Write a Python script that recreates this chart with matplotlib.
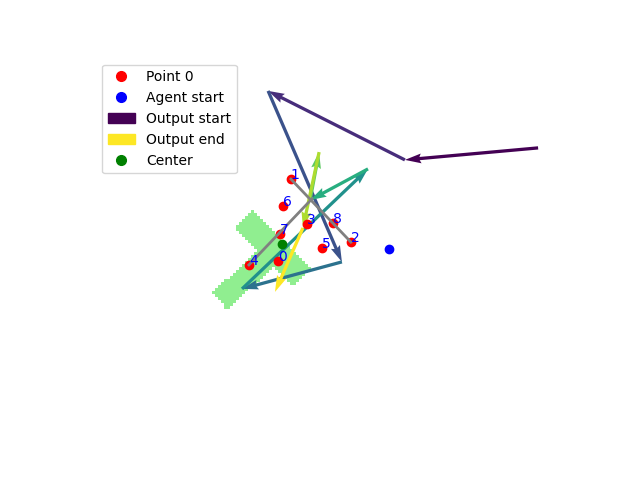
import numpy as np
import matplotlib
matplotlib.use("Agg")
import matplotlib.pyplot as plt
from matplotlib.patches import Patch
from matplotlib.path import Path
from matplotlib.colors import ListedColormap

# ---- data ----
pts_x = [61.0, 65.3, 85.3, 70.7, 51.3, 75.7, 62.7, 61.7, 79.3]
pts_y = [67.8, 40.5, 61.5, 55.5, 69.1, 63.5, 49.5, 58.8, 55.1]
agent_start = [98.0, 63.8]
center = [62.3, 62.1]

path_x = [147.7, 103.3, 57.7, 82.3, 49.0, 91.0, 71.7, 74.7, 69.3, 60.0]
path_y = [30.1, 34.1, 11.1, 68.1, 77.1, 37.1, 47.5, 31.5, 56.8, 78.1]

line_a_x = [65.3, 85.3]
line_a_y = [40.5, 61.5]
line_b_x = [51.3, 72.3]
line_b_y = [69.1, 47.1]

mask_bar_a = [(39.2, 78.4), (44.0, 84.2), (60.9, 68.9), (55.8, 63.3)]
mask_bar_b = [(52.1, 51.0), (46.3, 56.9), (66.3, 76.3), (71.9, 70.4)]

XMAX, YMAX = 155.33, 123.2

fig, ax = plt.subplots(figsize=(6.4, 4.8), dpi=100)

# region mask
nx, ny = int(np.ceil(XMAX)), int(np.ceil(YMAX))
gx, gy = np.meshgrid(np.arange(nx) + 0.5, np.arange(ny) + 0.5)
cells = np.column_stack([gx.ravel(), gy.ravel()])
mask = np.zeros(len(cells), dtype=bool)
for poly in (mask_bar_a, mask_bar_b):
    mask |= Path(poly).contains_points(cells)
mask = mask.reshape(ny, nx).astype(float)
mask_m = np.ma.masked_where(mask == 0, mask)
ax.imshow(mask_m, cmap=ListedColormap(["lightgreen"]), extent=(0, nx, ny, 0),
          origin="upper", interpolation="nearest", zorder=0)

# arrows
px = np.array(path_x); py = np.array(path_y)
n = len(px) - 1
cols = plt.cm.viridis(np.linspace(0, 1, n))
ax.quiver(px[:-1], py[:-1], np.diff(px), np.diff(py), color=cols,
          angles="xy", scale_units="xy", scale=1, width=0.007, zorder=1)

# points
for i, (x, y) in enumerate(zip(pts_x, pts_y)):
    ax.scatter(x, y, color="red", zorder=1.5, label="Point 0" if i == 0 else None)
ax.scatter(*agent_start, color="blue", zorder=1.5)
ax.scatter(*center, color="green", zorder=1.5)

ax.plot(line_a_x, line_a_y, color="grey", lw=2, zorder=2)
ax.plot(line_b_x, line_b_y, color="grey", lw=2, zorder=2)

for i, (x, y) in enumerate(zip(pts_x, pts_y)):
    ax.text(x, y, str(i), color="blue", fontsize=10, zorder=3)

h_point = plt.Line2D([], [], marker="o", ls="", color="red", markersize=7)
h_agent = plt.Line2D([], [], marker="o", ls="", color="blue", markersize=7)
h_center = plt.Line2D([], [], marker="o", ls="", color="green", markersize=7)
handles = [h_point, h_agent, Patch(color=plt.cm.viridis(0.0)),
           Patch(color=plt.cm.viridis(1.0)), h_center]
labels = ["Point 0", "Agent start", "Output start", "Output end", "Center"]
ax.legend(handles, labels, loc="upper left")

ax.set_xlim(0, XMAX)
ax.set_ylim(YMAX, 0)
ax.set_aspect("equal")
ax.axis("off")

fig.savefig("out.png", dpi=100)
